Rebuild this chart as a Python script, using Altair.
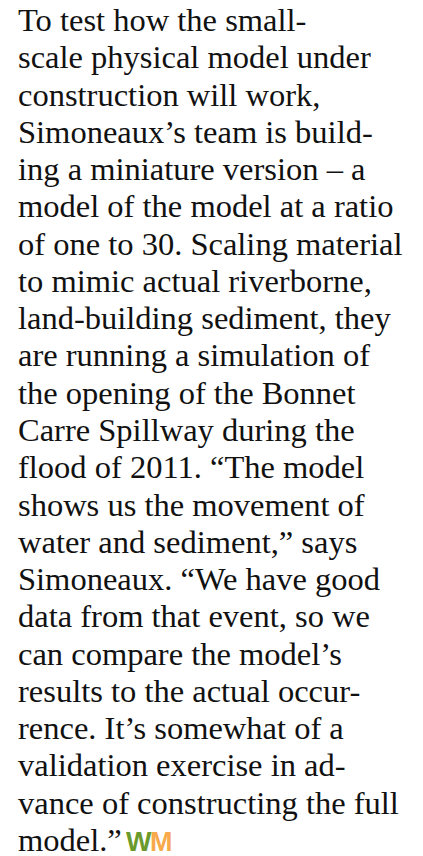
import altair as alt
import pandas as pd

lines = [
    "To test how the small-",
    "scale physical model under",
    "construction will work,",
    "Simoneaux’s team is build-",
    "ing a miniature version – a",
    "model of the model at a ratio",
    "of one to 30. Scaling material",
    "to mimic actual riverborne,",
    "land-building sediment, they",
    "are running a simulation of",
    "the opening of the Bonnet",
    "Carre Spillway during the",
    "flood of 2011. “The model",
    "shows us the movement of",
    "water and sediment,” says",
    "Simoneaux. “We have good",
    "data from that event, so we",
    "can compare the model’s",
    "results to the actual occur-",
    "rence. It’s somewhat of a",
    "validation exercise in ad-",
    "vance of constructing the full",
    "model.”",
]
logo_letters = ["W", "M"]
logo_colors = ["#6b9a2c", "#f7a94b"]

df = pd.DataFrame({"line": list(range(len(lines))), "text": lines})
last = len(lines) - 1

yscale = alt.Scale(domain=[0, last], range=[23, 843])

body = alt.Chart(df).mark_text(
    align="left", baseline="alphabetic", font="Liberation Serif",
    fontSize=32.5, color="#111111"
).encode(
    x=alt.value(10),
    y=alt.Y("line:Q", scale=yscale, axis=None),
    text="text:N",
)

logo_df = pd.DataFrame({"ch": logo_letters, "color": logo_colors,
                        "line": [last, last], "k": [0, 1]})

logo = alt.Chart(logo_df).mark_text(
    align="left", baseline="alphabetic", font="Liberation Sans",
    fontSize=27, fontWeight="bold"
).encode(
    x=alt.X("k:Q", scale=alt.Scale(domain=[0, 1], range=[118, 142]), axis=None),
    y=alt.Y("line:Q", scale=yscale, axis=None),
    text="ch:N",
    color=alt.Color("color:N", scale=None),
)

chart = alt.layer(body, logo).properties(
    width=407, height=848, padding=0, autosize="none",
    background="white"
).configure_view(stroke=None)

chart.save("out.html", embed_options={"renderer": "svg", "actions": False})
